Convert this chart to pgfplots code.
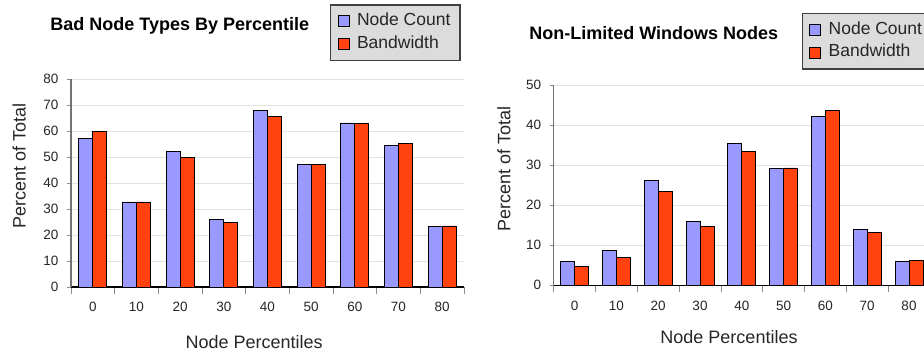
\documentclass[border=0pt]{standalone}
\usepackage{fontspec}
\setmainfont{Liberation Sans}
\usepackage{pgfplots}
\pgfplotsset{compat=1.18}
\definecolor{ncblue}{HTML}{9999FF}
\definecolor{bwred}{HTML}{FF420E}
\definecolor{leggray}{HTML}{DCDCDC}
\definecolor{legborder}{HTML}{404040}
\definecolor{gridgray}{HTML}{E2E2E2}
\pgfplotsset{
  mystyle/.style={
    scale only axis,
    ybar=0pt, bar width=14pt,
    xmin=-0.5, xmax=8.5, ymin=0,
    xtick={0,...,8}, xticklabels={0,10,20,30,40,50,60,70,80},
    minor xtick={-0.5,0.5,...,8.5},
    axis x line*=bottom, axis y line*=left,
    axis line style={-},
    x axis line style={black, line width=1.2pt},
    y axis line style={black!55, line width=1.2pt},
    tick align=outside,
    major tick length=4pt,
    minor tick length=7pt,
    major x tick style={draw=none},
    minor x tick style={black!45, line width=0.8pt},
    major y tick style={black!45, line width=0.8pt},
    ymajorgrids, grid style={gridgray, line width=1pt},
    tick label style={font=\fontsize{13.5}{16}\selectfont, text=black!85},
    /pgf/number format/assume math mode=true,
    xticklabel style={yshift=-8pt},
    yticklabel style={xshift=-5pt},
    label style={font=\fontsize{18}{21}\selectfont, text=black!85},
    title style={font=\fontsize{18}{21}\selectfont\bfseries, anchor=center},
    every axis plot/.append style={draw=black, line width=0.8pt},
    legend image code/.code={\draw[#1,draw=black,line width=0.8pt] (0pt,-5.5pt) rectangle (11pt,5.5pt);},
    legend cell align=left,
    legend style={anchor=north west, fill=leggray, draw=legborder, line width=1.5pt,
      font=\fontsize{17.5}{20}\selectfont, text=black!85, inner xsep=7pt, inner ysep=6pt,
      row sep=1.5pt, column sep=5pt,
      nodes={inner xsep=2.5pt, inner ysep=2pt, text height=13pt, text depth=4pt}},
  }
}
\begin{document}
\begin{tikzpicture}
\useasboundingbox (0pt,0pt) rectangle (924pt,-354pt);
\begin{axis}[mystyle,
  at={(71pt,-287pt)}, anchor=south west,
  width=393pt, height=208pt,
  ymax=80, ytick={0,10,...,80},
  title={Bad Node Types By Percentile},
  title style={at={(axis description cs:0.277,1.227)}},
  xlabel={Node Percentiles},
  xlabel style={at={(axis description cs:0.466,-0.263)}, anchor=center},
  ylabel={Percent of Total},
  ylabel style={at={(axis description cs:-0.132,0.582)}, anchor=center},
  legend style={at={(axis description cs:0.659,1.3606)}},
]
\addplot[fill=ncblue] coordinates {(0,57.3) (1,32.7) (2,52.2) (3,26.0) (4,67.8) (5,47.3) (6,63.1) (7,54.5) (8,23.2)};
\addplot[fill=bwred] coordinates {(0,59.8) (1,32.7) (2,49.8) (3,24.7) (4,65.5) (5,47.3) (6,62.8) (7,55.2) (8,23.5)};
\legend{Node Count, Bandwidth}
\end{axis}
\begin{axis}[mystyle,
  at={(553.7pt,-285.3pt)}, anchor=south west,
  width=376.2pt, height=200.3pt,
  ymax=50, ytick={0,10,...,50},
  title={Non-Limited Windows Nodes},
  title style={at={(axis description cs:0.266,1.23)}},
  xlabel={Node Percentiles},
  xlabel style={at={(axis description cs:0.466,-0.258)}, anchor=center},
  ylabel={Percent of Total},
  ylabel style={at={(axis description cs:-0.132,0.583)}, anchor=center},
  legend style={at={(axis description cs:0.659,1.361)}},
]
\addplot[fill=ncblue] coordinates {(0,5.9) (1,8.8) (2,26.2) (3,16.0) (4,35.4) (5,29.1) (6,42.2) (7,13.9) (8,5.9)};
\addplot[fill=bwred] coordinates {(0,4.8) (1,6.9) (2,23.5) (3,14.8) (4,33.5) (5,29.3) (6,43.6) (7,13.1) (8,6.1)};
\legend{Node Count, Bandwidth}
\end{axis}
\end{tikzpicture}
\end{document}
